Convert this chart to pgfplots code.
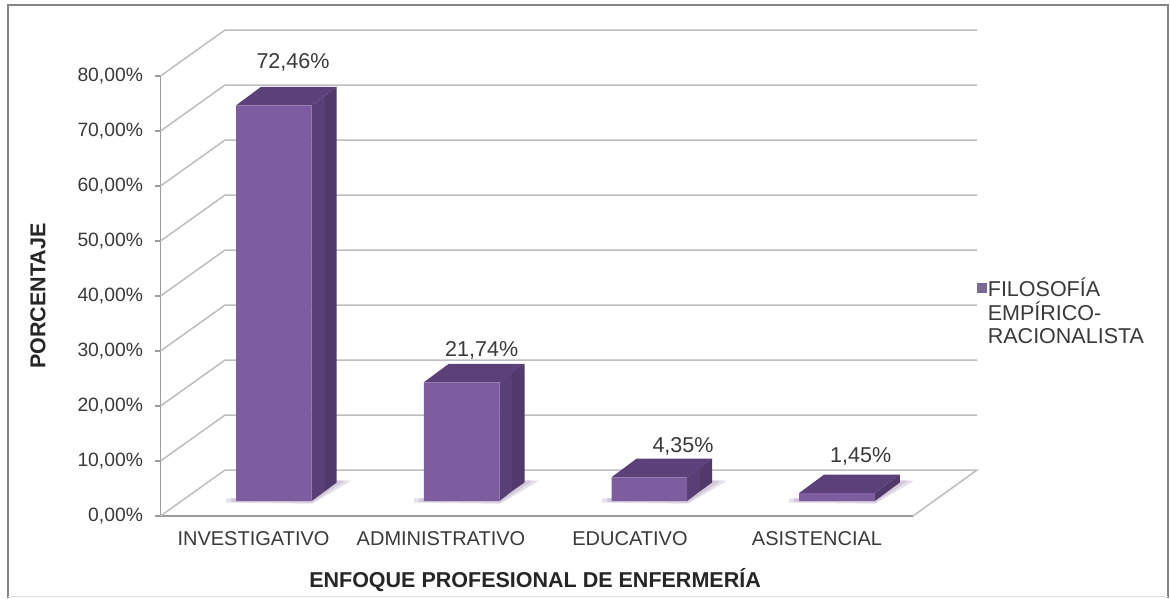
\documentclass[border=0pt]{standalone}
\usepackage{pgfplots}
\pgfplotsset{compat=1.18}
\usepackage{fontspec}
\setmainfont{Liberation Sans}
\definecolor{txt}{HTML}{3A3A3A}
\definecolor{grid}{HTML}{BEBEBE}
\definecolor{axl}{HTML}{9C9C9C}
\definecolor{front}{HTML}{7E5CA0}
\definecolor{topf}{HTML}{5B4079}
\definecolor{sideA}{HTML}{583F76}
\definecolor{sideB}{HTML}{4F3A6B}
\definecolor{shad}{HTML}{E6E0EA}
\definecolor{shadd}{HTML}{D3C9DB}
\definecolor{frm}{HTML}{858585}
\definecolor{lgm}{HTML}{7A6A9A}
\newcommand{\fs}{\fontsize{19.3}{22}\selectfont}
\newcommand{\fx}{\fontsize{20}{22}\selectfont}
\newcommand{\fl}{\fontsize{21.5}{24}\selectfont}
\newcommand{\ls}{\rule[-6pt]{0pt}{23.5pt}}
\pgfplotsset{
  wl/.style={draw=grid,line width=1.5pt,no marks},
  poly/.style={draw=none,no marks,forget plot},
}
\begin{document}
\begin{tikzpicture}[x=1pt,y=1pt]
\path[use as bounding box] (0,0) rectangle (1170,598);
\fill[white] (0,0) rectangle (1170,598);
\draw[frm,line width=2.2pt] (8,0) -- (8,593) -- (1168,593) -- (1168,0);
\draw[black!12,line width=1pt] (8,1.5) -- (1168,1.5);
% walls, ticks and labels: one percent = 5.5 px
\begin{axis}[
  at={(160.5pt,82pt)},anchor=south west,scale only axis,
  width=752.5pt,height=440pt,
  xmin=160.5,xmax=913,ymin=0,ymax=80,clip=false,
  axis x line*=bottom,axis y line*=left,
  axis line style={draw=axl,line width=1.5pt,-},
  xtick={253.5,441,630,817},
  xticklabels={INVESTIGATIVO,ADMINISTRATIVO,EDUCATIVO,ASISTENCIAL},
  x tick style={draw=none},major tick length=5pt,
  ytick={0,10,...,80},
  y tick style={draw=axl,line width=1.2pt},
  tick align=outside,
  /pgf/number format/.cd,fixed,fixed zerofill,precision=2,use comma,assume math mode=true,
  /pgfplots/.cd,
  yticklabel={\pgfmathprintnumber{\tick}\%},
  yticklabel style={xshift=-9pt,font=\fs,text=txt},
  xticklabel style={yshift=-7pt,font=\fx,text=txt},
  xlabel={ENFOQUE PROFESIONAL DE ENFERMERÍA},
  ylabel={PORCENTAJE},
  label style={font=\fl\bfseries,text=black!85},
  xlabel style={at={(axis description cs:0.4977,-0.1455)},anchor=center},
  ylabel style={at={(axis description cs:-0.1628,0.5)},anchor=center},
]
\addplot[wl] coordinates {(160.5,0)(225,8.36)(977,8.36)(913,0)};
\addplot[wl] coordinates {(160.5,10)(225,18.36)(977,18.36)};
\addplot[wl] coordinates {(160.5,20)(225,28.36)(977,28.36)};
\addplot[wl] coordinates {(160.5,30)(225,38.36)(977,38.36)};
\addplot[wl] coordinates {(160.5,40)(225,48.36)(977,48.36)};
\addplot[wl] coordinates {(160.5,50)(225,58.36)(977,58.36)};
\addplot[wl] coordinates {(160.5,60)(225,68.36)(977,68.36)};
\addplot[wl] coordinates {(160.5,70)(225,78.36)(977,78.36)};
\addplot[wl] coordinates {(160.5,80)(225,88.36)(977,88.36)};
\end{axis}
% bars: base at pixel row 501, one percent = 5.46 px
\begin{axis}[
  at={(160.5pt,97pt)},anchor=south west,scale only axis,
  width=752.5pt,height=436.8pt,
  xmin=160.5,xmax=913,ymin=0,ymax=80,clip=false,hide axis,
  legend style={draw=none,fill=none,at={(axis description cs:1.0795,0.5165)},anchor=north west,
    font=\fl,text=txt,legend cell align=left,row sep=0pt,inner sep=0pt,outer sep=0pt,
    /tikz/every even column/.append style={column sep=12pt}},
]
% floor shadows
\addplot[poly,fill=shad] coordinates {(226,-0.3)(312,-0.5)(351,3.7)(336,3.9)(312,0.5)(226,0.5)} --cycle;
\addplot[poly,fill=shad] coordinates {(414,-0.3)(500,-0.5)(539,3.7)(524,3.9)(500,0.5)(414,0.5)} --cycle;
\addplot[poly,fill=shad] coordinates {(602,-0.3)(688,-0.5)(727,3.7)(712,3.9)(688,0.5)(602,0.5)} --cycle;
\addplot[poly,fill=shad] coordinates {(789,-0.3)(875,-0.5)(914,3.7)(900,3.9)(875,0.5)(789,0.5)} --cycle;
\addplot[poly,fill=shadd] coordinates {(231,-0.15)(312,-0.3)(344,3.6)(336,3.7)(312,0.5)(231,0.5)} --cycle;
\addplot[poly,fill=shadd] coordinates {(419,-0.15)(500,-0.3)(532,3.6)(524,3.7)(500,0.5)(419,0.5)} --cycle;
\addplot[poly,fill=shadd] coordinates {(607,-0.15)(688,-0.3)(720,3.6)(712,3.7)(688,0.5)(607,0.5)} --cycle;
\addplot[poly,fill=shadd] coordinates {(794,-0.15)(875,-0.3)(907,3.6)(900,3.7)(875,0.5)(794,0.5)} --cycle;
% right faces
\addplot[poly,fill=sideA] coordinates {(311.7,0)(325,1.8)(325,74.26)(311.7,72.46)} --cycle;
\addplot[poly,fill=sideB] coordinates {(325,1.8)(336.7,3.39)(336.7,75.85)(325,74.26)} --cycle;
\addplot[poly,fill=sideA] coordinates {(499.5,0)(512,1.8)(512,23.54)(499.5,21.74)} --cycle;
\addplot[poly,fill=sideB] coordinates {(512,1.8)(524.5,3.39)(524.5,25.13)(512,23.54)} --cycle;
\addplot[poly,fill=sideA] coordinates {(687.2,0)(700,1.8)(700,6.15)(687.2,4.35)} --cycle;
\addplot[poly,fill=sideB] coordinates {(700,1.8)(712.2,3.39)(712.2,7.74)(700,6.15)} --cycle;
\addplot[poly,fill=sideB] coordinates {(874.8,0)(899.8,3.39)(899.8,4.84)(874.8,1.45)} --cycle;
% top faces
\addplot[poly,fill=topf] coordinates {(236,72.46)(311.7,72.46)(336.7,75.85)(261,75.85)} --cycle;
\addplot[poly,fill=topf] coordinates {(423.8,21.74)(499.5,21.74)(524.5,25.13)(448.8,25.13)} --cycle;
\addplot[poly,fill=topf] coordinates {(611.5,4.35)(687.2,4.35)(712.2,7.74)(636.5,7.74)} --cycle;
\addplot[poly,fill=topf] coordinates {(799.1,1.45)(874.8,1.45)(899.8,4.84)(824.1,4.84)} --cycle;
% front faces
\addplot[ybar,bar shift=0pt,bar width=75.7pt,fill=front,draw=none,forget plot] coordinates {
  (273.85,72.46)(461.65,21.74)(649.35,4.35)(836.95,1.45)};
\node[font=\fl,text=txt] at (axis cs:293,80.4) {72,46\%};
\node[font=\fl,text=txt] at (axis cs:481.7,27.5) {21,74\%};
\node[font=\fl,text=txt] at (axis cs:683,10) {4,35\%};
\node[font=\fl,text=txt] at (axis cs:860.7,8.1) {1,45\%};
\addlegendimage{only marks,mark=square*,mark size=4.5pt,draw=lgm,fill=lgm,mark options={draw=lgm,fill=lgm}}
\addlegendentry{\ls FILOSOFÍA}
\addlegendimage{empty legend}
\addlegendentry{\ls EMPÍRICO-}
\addlegendimage{empty legend}
\addlegendentry{\ls RACIONALISTA}
\end{axis}
\end{tikzpicture}
\end{document}
